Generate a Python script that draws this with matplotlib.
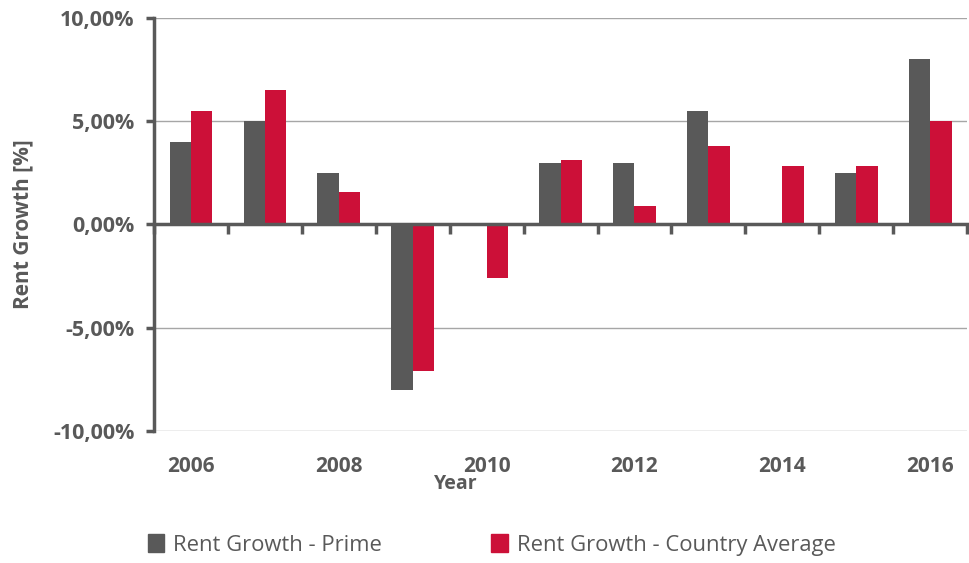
import numpy as np
import matplotlib.pyplot as plt
from matplotlib.patches import Patch
from matplotlib.ticker import FuncFormatter

# Datos
anios = ['2006', '2007', '2008', '2009', '2010', '2011', '2012', '2013', '2014', '2015', '2016']
prime = [4.0, 5.0, 2.5, -8.0, 0.0, 3.0, 3.0, 5.5, 0.0, 2.5, 8.0]
promedio_pais = [5.5, 6.5, 1.55, -7.1, -2.6, 3.1, 0.9, 3.8, 2.85, 2.85, 5.0]

gris = '#595959'
rojo = '#CC1038'
fuente = ['Open Sans', 'DejaVu Sans']

plt.rcParams['font.family'] = fuente

fig = plt.figure(figsize=(9.69, 5.63), dpi=100)
ax = fig.add_axes([0.159, 0.2345, 0.839, 0.7335])

x = np.arange(len(anios))
ancho = 0.29
ax.bar(x - ancho / 2, prime, ancho, color=gris, zorder=3)
ax.bar(x + ancho / 2, promedio_pais, ancho, color=rojo, zorder=3)

ax.set_xlim(-0.5, len(anios) - 0.5)
ax.set_ylim(-10, 10)
ax.set_yticks([-10, -5, 0, 5, 10])
ax.yaxis.set_major_formatter(FuncFormatter(lambda v, p: f'{v:.2f}%'.replace('.', ',')))
ax.grid(axis='y', color='#A6A6A6', lw=1, zorder=0)
ax.tick_params(axis='y', colors=gris, labelcolor=gris, width=2.5, length=6, labelsize=15.5, pad=8)
for lab in ax.get_yticklabels():
    lab.set_fontweight('bold')

for s in ['top', 'right']:
    ax.spines[s].set_visible(False)
ax.spines['left'].set_color(gris)
ax.spines['left'].set_linewidth(2.5)
ax.spines['bottom'].set_position(('data', 0))
ax.spines['bottom'].set_color(gris)
ax.spines['bottom'].set_linewidth(2.5)
ax.spines['bottom'].set_zorder(4)

# marcas entre categorias sobre la linea del cero
ax.set_xticks(np.arange(len(anios) + 1) - 0.5)
ax.set_xticklabels([])
ax.tick_params(axis='x', colors=gris, width=2.5, length=7)

# etiquetas de años abajo
sec = ax.secondary_xaxis('bottom')
sec.set_xticks(x[::2])
sec.set_xticklabels(anios[::2], fontsize=15, fontweight='bold', color=gris)
sec.tick_params(length=0, pad=18)
sec.spines['bottom'].set_visible(False)

ax.set_ylabel('Rent Growth [%]', fontsize=15, fontweight='bold', color=gris, labelpad=14)
fig.text(0.47, 0.140, 'Year', fontsize=14, fontweight='bold', color=gris, ha='center', va='center')

manijas = [Patch(color=gris), Patch(color=rojo)]
fig.legend(manijas, ['Rent Growth - Prime', 'Rent Growth - Country Average'],
           loc='center left', bbox_to_anchor=(0.132, 0.032), ncol=2, frameon=False,
           fontsize=15.8, labelcolor=gris, handlelength=0.75, handleheight=0.85,
           handletextpad=0.4, columnspacing=5.0)

fig.savefig('out.png', dpi=100)
